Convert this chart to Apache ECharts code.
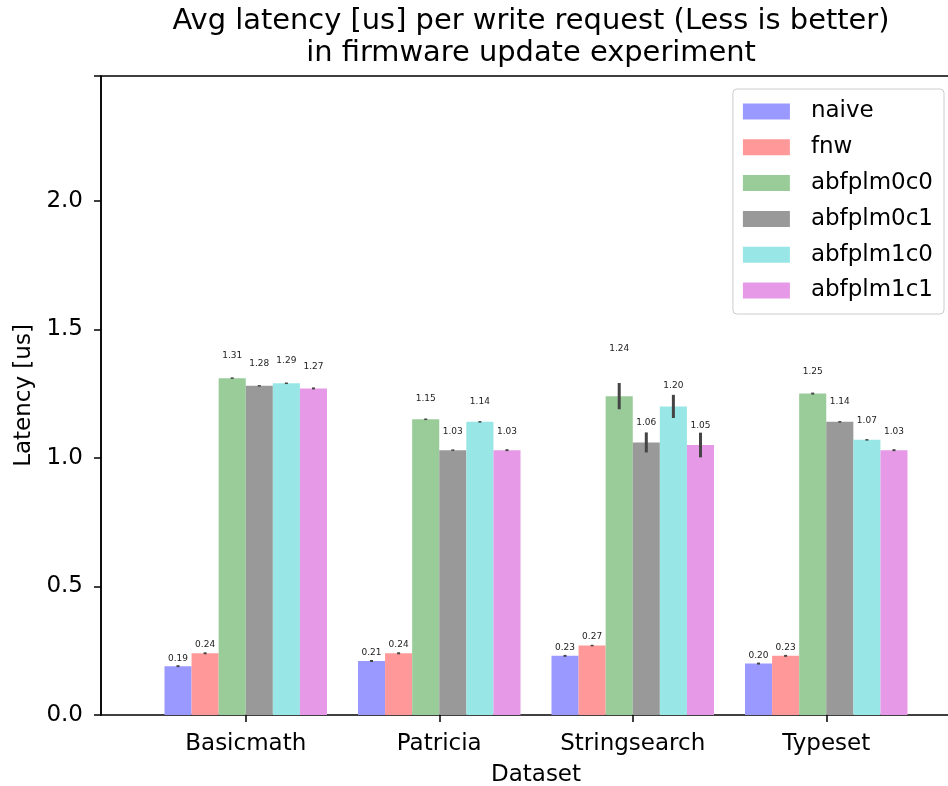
<!DOCTYPE html>
<html>
<head>
<meta charset="utf-8">
<script src="https://cdn.jsdelivr.net/npm/echarts@6/dist/echarts.min.js"></script>
<style>
  html, body { margin: 0; padding: 0; background: #fff; }
  #chart { width: 948px; height: 786px; }
</style>
</head>
<body>
<div id="chart"></div>
<script>
// Datasets on the x axis
const datasets = ['Basicmath', 'Patricia', 'Stringsearch', 'Typeset'];

// Configurations (one bar per dataset each)
const configs = ['naive', 'fnw', 'abfplm0c0', 'abfplm0c1', 'abfplm1c0', 'abfplm1c1'];

// Mean latency [us] per configuration, ordered as datasets
const naive     = [0.19, 0.21, 0.23, 0.20];
const fnw       = [0.24, 0.24, 0.27, 0.23];
const abfplm0c0 = [1.31, 1.15, 1.24, 1.25];
const abfplm0c1 = [1.28, 1.03, 1.06, 1.14];
const abfplm1c0 = [1.29, 1.14, 1.20, 1.07];
const abfplm1c1 = [1.27, 1.03, 1.05, 1.03];

// Confidence interval half-widths [us]
const ciNaive     = [0.002, 0.002, 0.002, 0.002];
const ciFnw       = [0.002, 0.002, 0.003, 0.002];
const ciAbfplm0c0 = [0.003, 0.003, 0.051, 0.002];
const ciAbfplm0c1 = [0.003, 0.003, 0.039, 0.003];
const ciAbfplm1c0 = [0.003, 0.003, 0.045, 0.003];
const ciAbfplm1c1 = [0.002, 0.002, 0.048, 0.002];

// y axis ticks
const yTicks = [0.0, 0.5, 1.0, 1.5, 2.0];
const yMax = 2.485;

const means = [naive, fnw, abfplm0c0, abfplm0c1, abfplm1c0, abfplm1c1];
const cis = [ciNaive, ciFnw, ciAbfplm0c0, ciAbfplm0c1, ciAbfplm1c0, ciAbfplm1c1];
const colors = ['#9999ff', '#ff9999', '#99cc99', '#999999', '#99e6e6', '#e699e6'];

const FONT = 'DejaVu Sans';
const BAR_FRAC = 0.14; // share of a category band taken by one bar

// value labels sit just above the bar; one label is lifted clear of its whisker
const labelLift = { 'abfplm0c0|Stringsearch': 43 };

const barSeries = configs.map((name, s) => ({
  name,
  type: 'bar',
  xAxisIndex: 1,
  yAxisIndex: 1,
  barWidth: (BAR_FRAC * 100) + '%',
  barGap: '0%',
  itemStyle: { color: colors[s] },
  data: means[s].map((v, c) => ({
    value: v,
    label: {
      show: true,
      position: 'top',
      distance: labelLift[name + '|' + datasets[c]] || (1 + v * 13),
      formatter: v.toFixed(2),
      fontFamily: FONT,
      fontSize: 9,
      color: '#222'
    }
  })),
  z: 2
}));

// whiskers: [category index, series index, low, high]
const whiskerData = [];
configs.forEach((name, s) => {
  means[s].forEach((v, c) => {
    whiskerData.push([c, s, v - cis[s][c], v + cis[s][c]]);
  });
});

const whiskers = {
  type: 'custom',
  xAxisIndex: 1,
  yAxisIndex: 1,
  z: 5,
  silent: true,
  data: whiskerData,
  renderItem: function (params, api) {
    const c = api.value(0), s = api.value(1);
    const band = api.size([1, 0])[0];
    const barW = band * BAR_FRAC;
    const cx = api.coord([c, 0])[0] + (s - (configs.length - 1) / 2) * barW;
    const yLo = api.coord([c, api.value(2)])[1];
    const yHi = api.coord([c, api.value(3)])[1];
    return {
      type: 'line',
      shape: { x1: cx, y1: Math.max(yLo, yHi + 1.5), x2: cx, y2: Math.min(yHi, yLo - 1.5) },
      style: { stroke: '#444', lineWidth: 3 }
    };
  }
};

const chart = echarts.init(document.getElementById('chart'), null, { renderer: 'canvas' });

chart.setOption({
  animation: false,
  backgroundColor: '#fff',
  title: {
    text: 'Avg latency [us] per write request (Less is better)\nin firmware update experiment',
    left: 526,
    top: 0,
    textAlign: 'center',
    textStyle: { fontFamily: FONT, fontSize: 28.9, fontWeight: 'normal', color: '#000', lineHeight: 32 }
  },
  legend: {
    data: configs,
    orient: 'vertical',
    right: 4,
    top: 89,
    icon: 'rect',
    itemWidth: 47,
    itemHeight: 16,
    itemGap: 12.8,
    itemStyle: { borderWidth: 0 },
    padding: [11, 11, 12, 10],
    backgroundColor: 'rgba(255,255,255,0.8)',
    borderColor: '#ccc',
    borderWidth: 1,
    borderRadius: 4,
    textStyle: { fontFamily: FONT, fontSize: 23, color: '#000', lineHeight: 23, padding: [0, 0, 0, 16] }
  },
  grid: [
    { left: 101, right: -3, top: 76, bottom: 71, outerBoundsMode: 'none', containLabel: false,
      show: true, borderColor: '#000', borderWidth: 1.5, backgroundColor: 'transparent' },
    { left: 149, right: 25, top: 76, bottom: 71, outerBoundsMode: 'none', containLabel: false }
  ],
  xAxis: [
    { gridIndex: 0, type: 'value', min: 0, max: 1, show: false },
    {
      gridIndex: 1,
      type: 'category',
      data: datasets,
      axisLine: { show: false },
      axisTick: { show: true, alignWithLabel: true, length: 7, lineStyle: { color: '#000', width: 1.5 } },
      axisLabel: { fontFamily: FONT, fontSize: 23, color: '#000', margin: 18 },
      name: 'Dataset',
      nameLocation: 'middle',
      nameGap: 49,
      nameTextStyle: { fontFamily: FONT, fontSize: 23, color: '#000' }
    }
  ],
  yAxis: [
    {
      gridIndex: 0,
      type: 'value',
      min: 0,
      max: yMax,
      interval: 0.5,
      splitLine: { show: false },
      axisLine: { show: true, lineStyle: { color: '#000', width: 1.5 } },
      axisTick: { show: true, length: 7, lineStyle: { color: '#000', width: 1.5 } },
      axisLabel: {
        fontFamily: FONT, fontSize: 23, color: '#000', margin: 18,
        formatter: v => yTicks.some(t => Math.abs(t - v) < 1e-9) ? v.toFixed(1) : ''
      },
      name: 'Latency [us]',
      nameLocation: 'middle',
      nameGap: 63,
      nameTextStyle: { fontFamily: FONT, fontSize: 23, color: '#000' }
    },
    { gridIndex: 1, type: 'value', min: 0, max: yMax, show: false }
  ],
  series: barSeries.concat([whiskers])
});
</script>
</body>
</html>
